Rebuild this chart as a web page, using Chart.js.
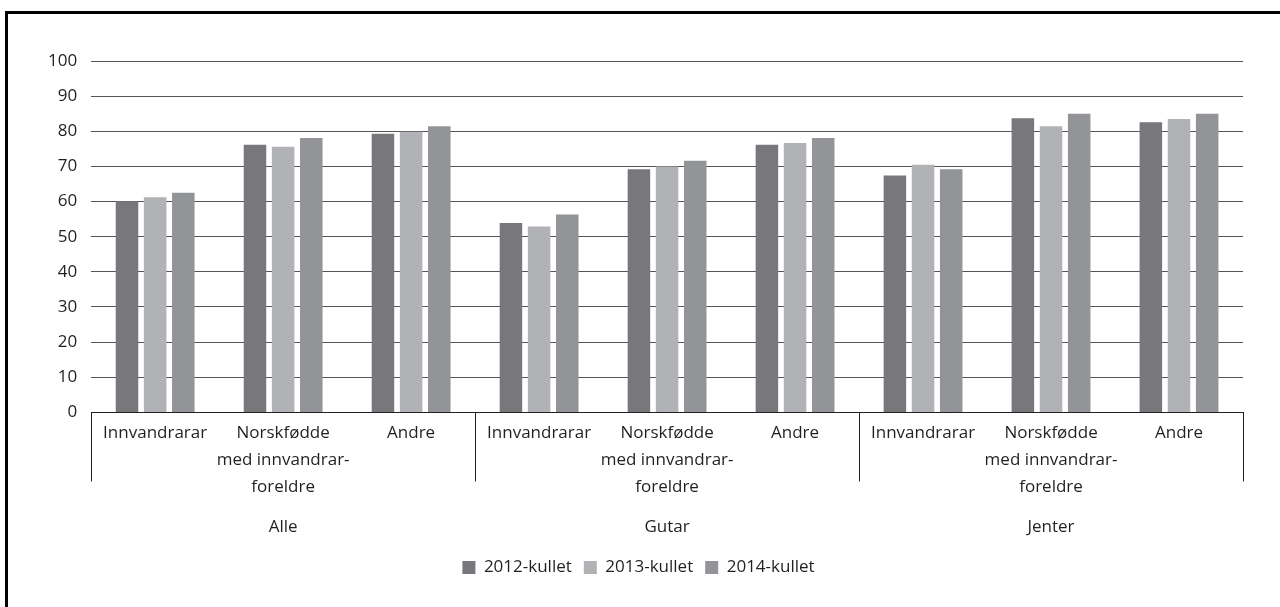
<!DOCTYPE html>
<html>
<head>
<meta charset="utf-8">
<script src="https://cdn.jsdelivr.net/npm/chart.js@4/dist/chart.umd.min.js"></script>
<style>
  html, body { margin: 0; padding: 0; background: #fff; }
  #wrap { position: relative; width: 1280px; height: 607px; }
  #frame { position: absolute; left: 5px; top: 11px; right: -10px; bottom: -10px;
           border-left: 3px solid #000; border-top: 3px solid #000; pointer-events: none; }
  canvas { position: absolute; left: 0; top: 0; }
</style>
</head>
<body>
<div id="wrap">
  <canvas id="myChart" width="1280" height="607"></canvas>
  <div id="frame"></div>
</div>
<script>
// groups along the x axis, three categories each
const groups = ['Alle', 'Gutar', 'Jenter'];
const subCategories = ['Innvandrarar', ['Norskfødde', 'med innvandrar-', 'foreldre'], 'Andre'];
const seriesNames = ['2012-kullet', '2013-kullet', '2014-kullet'];

// share in percent, order: Alle (3), Gutar (3), Jenter (3)
const kull2012 = [60.1, 76.2, 79.3, 53.9, 69.2, 76.2, 67.4, 83.7, 82.6];
const kull2013 = [61.2, 75.6, 79.9, 52.9, 70.0, 76.7, 70.5, 81.4, 83.5];
const kull2014 = [62.5, 78.1, 81.4, 56.3, 71.6, 78.1, 69.2, 85.0, 85.0];

const yTicks = [0, 10, 20, 30, 40, 50, 60, 70, 80, 90, 100];

const labels = [];
groups.forEach(() => subCategories.forEach(c => labels.push(c)));

const fontFamily = '"Open Sans", sans-serif';
const fontSize = 17;
const textColor = '#231f20';

// draws the group names and the separators under the x axis
const groupPlugin = {
  id: 'groupPlugin',
  afterDraw(chart) {
    const ctx = chart.ctx;
    const x = chart.scales.x;
    const step = x.getPixelForValue(1) - x.getPixelForValue(0);
    const per = subCategories.length;
    ctx.save();
    ctx.strokeStyle = '#231f20';
    ctx.lineWidth = 1;
    for (let g = 0; g <= groups.length; g++) {
      const px = Math.round(x.getPixelForValue(g * per) - step / 2) + 0.5;
      ctx.beginPath();
      ctx.moveTo(px, x.top);
      ctx.lineTo(px, x.top + 69);
      ctx.stroke();
    }
    ctx.fillStyle = textColor;
    ctx.font = fontSize + 'px ' + fontFamily;
    ctx.textAlign = 'center';
    ctx.textBaseline = 'middle';
    groups.forEach((g, i) => {
      const mid = x.getPixelForValue(i * per + (per - 1) / 2);
      ctx.fillText(g, mid, x.bottom - 20);
    });
    ctx.restore();
  }
};

const ctx = document.getElementById('myChart').getContext('2d');
new Chart(ctx, {
  type: 'bar',
  data: {
    labels: labels,
    datasets: [
      { label: seriesNames[0], data: kull2012, backgroundColor: '#77787c' },
      { label: seriesNames[1], data: kull2013, backgroundColor: '#b1b2b5' },
      { label: seriesNames[2], data: kull2014, backgroundColor: '#939498' },
    ],
  },
  options: {
    responsive: false,
    animation: false,
    datasets: { bar: { categoryPercentage: 0.66, barPercentage: 0.8 } },
    layout: { padding: { left: 34, right: 37, top: 61, bottom: 21 } },
    scales: {
      x: {
        grid: { display: false, drawTicks: false },
        border: { display: true, color: '#231f20', width: 1 },
        ticks: { color: textColor, font: { family: fontFamily, size: fontSize, lineHeight: 1.6 }, padding: 7, maxRotation: 0, autoSkip: false },
        afterFit(axis) { axis.height += 39; },
      },
      y: {
        min: 0,
        max: 100,
        afterBuildTicks(axis) { axis.ticks = yTicks.map(v => ({ value: v })); },
        border: { display: false },
        grid: { color: '#555', lineWidth: 1, drawTicks: false },
        ticks: { color: textColor, font: { family: fontFamily, size: fontSize }, padding: 14 },
      },
    },
    plugins: {
      legend: {
        position: 'bottom',
        labels: { color: textColor, font: { family: fontFamily, size: fontSize }, boxWidth: 13, boxHeight: 13, padding: 12 },
      },
      tooltip: { enabled: false },
    },
  },
  plugins: [groupPlugin],
});
</script>
</body>
</html>
